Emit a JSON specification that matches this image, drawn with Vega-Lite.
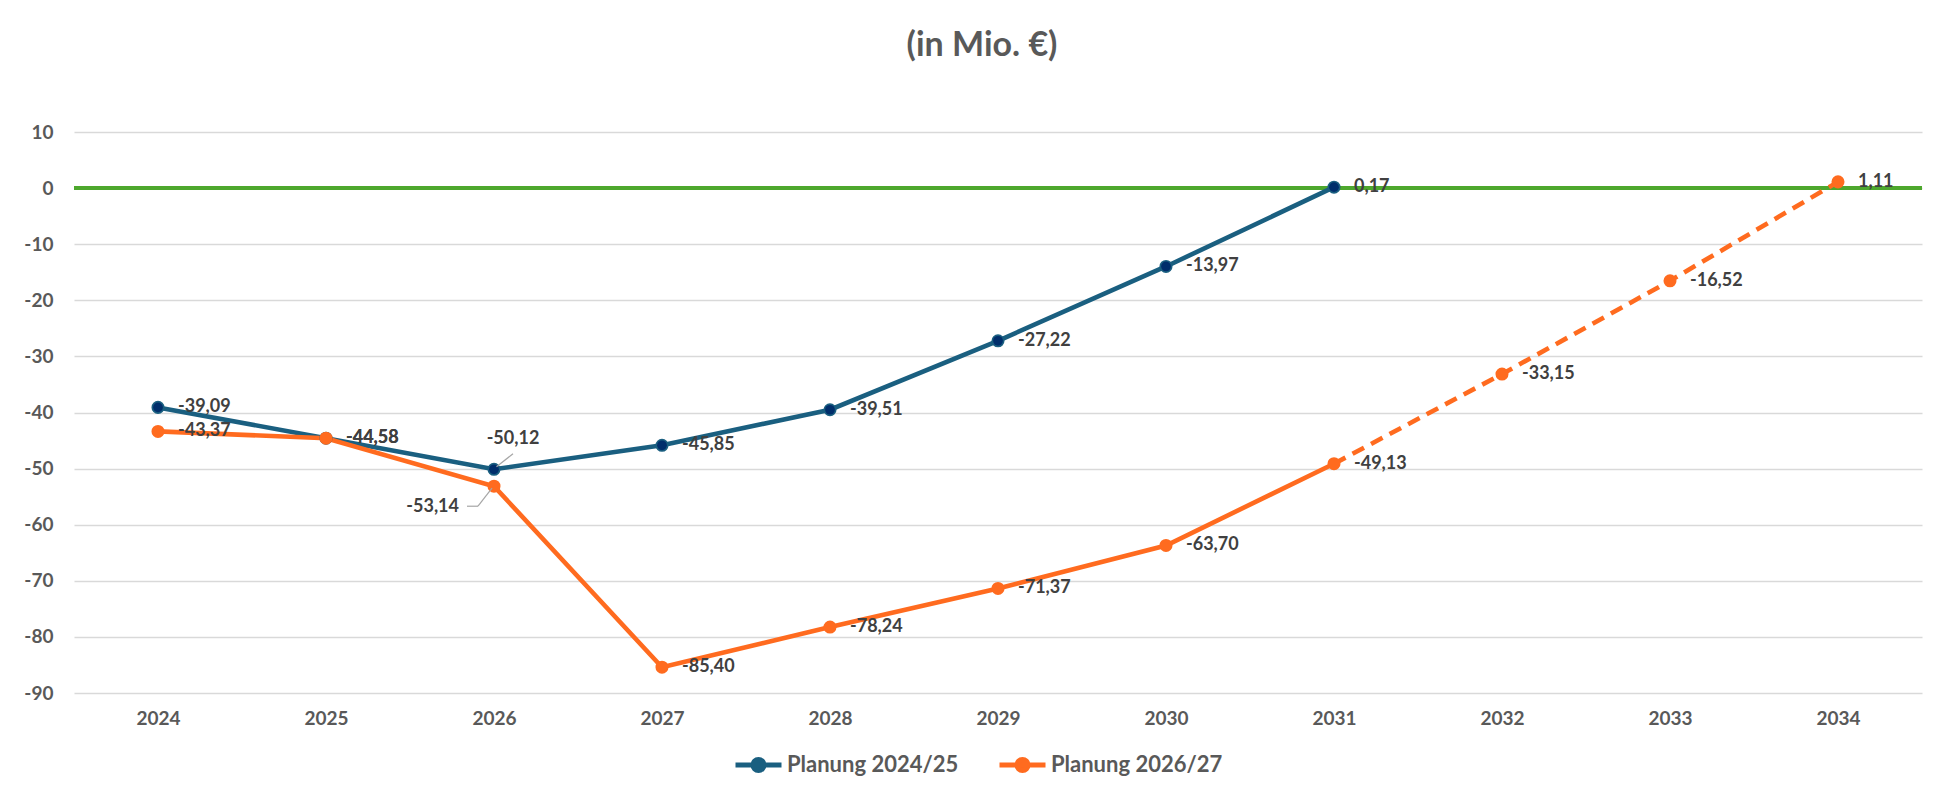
{
  "$schema": "https://vega.github.io/schema/vega-lite/v6.json",
  "width": 1848,
  "height": 561,
  "autosize": {"type": "none"},
  "padding": {"left": 74, "top": 132, "right": 37, "bottom": 109},
  "background": "white",
  "title": {"text": "(in Mio. €)", "font": "Lato", "fontSize": 34, "fontWeight": "bold", "color": "#595959", "anchor": "middle", "frame": "group", "dx": -16, "offset": 60},
  "config": {
    "locale": {"number": {"decimal": ",", "thousands": ".", "grouping": [3], "currency": ["", " €"], "minus": "-"}},
    "view": {"stroke": null},
    "font": "Lato"
  },
  "data": {"values": [
    {"Jahr": "2024", "Serie": "Planung 2024/25", "Wert": -39.09},
    {"Jahr": "2025", "Serie": "Planung 2024/25", "Wert": -44.58},
    {"Jahr": "2026", "Serie": "Planung 2024/25", "Wert": -50.12},
    {"Jahr": "2027", "Serie": "Planung 2024/25", "Wert": -45.85},
    {"Jahr": "2028", "Serie": "Planung 2024/25", "Wert": -39.51},
    {"Jahr": "2029", "Serie": "Planung 2024/25", "Wert": -27.22},
    {"Jahr": "2030", "Serie": "Planung 2024/25", "Wert": -13.97},
    {"Jahr": "2031", "Serie": "Planung 2024/25", "Wert": 0.17},
    {"Jahr": "2024", "Serie": "Planung 2026/27", "Wert": -43.37},
    {"Jahr": "2025", "Serie": "Planung 2026/27", "Wert": -44.58},
    {"Jahr": "2026", "Serie": "Planung 2026/27", "Wert": -53.14},
    {"Jahr": "2027", "Serie": "Planung 2026/27", "Wert": -85.40},
    {"Jahr": "2028", "Serie": "Planung 2026/27", "Wert": -78.24},
    {"Jahr": "2029", "Serie": "Planung 2026/27", "Wert": -71.37},
    {"Jahr": "2030", "Serie": "Planung 2026/27", "Wert": -63.70},
    {"Jahr": "2031", "Serie": "Planung 2026/27", "Wert": -49.13},
    {"Jahr": "2032", "Serie": "Planung 2026/27", "Wert": -33.15},
    {"Jahr": "2033", "Serie": "Planung 2026/27", "Wert": -16.52},
    {"Jahr": "2034", "Serie": "Planung 2026/27", "Wert": 1.11}
  ]},
  "layer": [
    {
      "mark": {"type": "line", "strokeWidth": 0, "opacity": 0},
      "encoding": {
        "x": {"field": "Jahr", "type": "ordinal", "scale": {"type": "point", "padding": 0.5},
          "axis": {"title": null, "labelAngle": 0, "ticks": false, "domain": false, "grid": false, "labelPadding": 16, "labelFontSize": 19, "labelFontWeight": "bold", "labelColor": "#595959", "labelFont": "Lato"}},
        "y": {"field": "Wert", "type": "quantitative", "scale": {"domain": [-90, 10], "nice": false, "zero": false},
          "axis": {"title": null, "values": [-90, -80, -70, -60, -50, -40, -30, -20, -10, 0, 10], "format": "d", "ticks": false, "domain": false, "grid": true, "gridColor": "#D9D9D9", "gridWidth": 1.5, "labelPadding": 21, "labelFontSize": 19, "labelFontWeight": "bold", "labelColor": "#595959", "labelFont": "Lato"}},
        "detail": {"field": "Serie"}
      }
    },
    {
      "mark": {"type": "rule", "color": "#4EA72E", "strokeWidth": 2.5},
      "encoding": {"y": {"datum": 0, "type": "quantitative"}}
    },
    {
      "transform": [{"filter": "datum.Serie == 'Planung 2024/25' || datum.Jahr <= '2031'"}],
      "mark": {"type": "line", "strokeWidth": 4.6},
      "encoding": {
        "x": {"field": "Jahr", "type": "ordinal"},
        "y": {"field": "Wert", "type": "quantitative"},
        "color": {"field": "Serie", "type": "nominal",
          "scale": {"domain": ["Planung 2024/25", "Planung 2026/27"], "range": ["#1A5F80", "#FF6B1F"]},
          "legend": {"title": null, "orient": "none", "direction": "horizontal", "legendX": 659, "legendY": 607, "padding": 0,
            "symbolType": "M-1,0L1,0M-0.24,0A0.24,0.24,0,1,1,0.24,0A0.24,0.24,0,1,1,-0.24,0Z", "symbolSize": 2116, "symbolStrokeWidth": 5,
            "labelFontSize": 22, "labelFontWeight": "bold", "labelColor": "#595959", "labelFont": "Lato", "labelOffset": 3, "labelLimit": 400, "columnPadding": 30}}
      }
    },
    {
      "transform": [{"filter": "datum.Serie == 'Planung 2026/27' && datum.Jahr >= '2031'"}],
      "mark": {"type": "line", "strokeWidth": 4.6, "color": "#FF6B1F", "strokeDash": [13, 8]},
      "encoding": {
        "x": {"field": "Jahr", "type": "ordinal"},
        "y": {"field": "Wert", "type": "quantitative"}
      }
    },
    {
      "mark": {"type": "point", "filled": true, "size": 170, "opacity": 1},
      "encoding": {
        "x": {"field": "Jahr", "type": "ordinal"},
        "y": {"field": "Wert", "type": "quantitative"},
        "color": {"field": "Serie", "type": "nominal"}
      }
    },
    {
      "transform": [{"filter": "datum.Serie == 'Planung 2024/25' && datum.Jahr != '2025'"}],
      "mark": {"type": "point", "filled": true, "size": 95, "opacity": 1, "color": "#002E6B"},
      "encoding": {
        "x": {"field": "Jahr", "type": "ordinal"},
        "y": {"field": "Wert", "type": "quantitative"}
      }
    },
    {
      "transform": [{"filter": "datum.Jahr != '2026'"}],
      "mark": {"type": "text", "align": "left", "baseline": "middle", "dx": 20, "fontSize": 18, "fontWeight": "bold", "font": "Lato", "color": "#404040"},
      "encoding": {
        "x": {"field": "Jahr", "type": "ordinal"},
        "y": {"field": "Wert", "type": "quantitative"},
        "text": {"field": "Wert", "type": "quantitative", "format": ".2f"}
      }
    },
    {
      "transform": [{"filter": "datum.Jahr == '2026' && datum.Serie == 'Planung 2024/25'"}],
      "mark": {"type": "text", "align": "center", "baseline": "middle", "dx": 19, "dy": -30, "fontSize": 18, "fontWeight": "bold", "font": "Lato", "color": "#404040"},
      "encoding": {
        "x": {"field": "Jahr", "type": "ordinal"},
        "y": {"field": "Wert", "type": "quantitative"},
        "text": {"field": "Wert", "type": "quantitative", "format": ".2f"}
      }
    },
    {
      "transform": [{"filter": "datum.Jahr == '2026' && datum.Serie == 'Planung 2026/27'"}],
      "mark": {"type": "text", "align": "right", "baseline": "middle", "dx": -35, "dy": 21, "fontSize": 18, "fontWeight": "bold", "font": "Lato", "color": "#404040"},
      "encoding": {
        "x": {"field": "Jahr", "type": "ordinal"},
        "y": {"field": "Wert", "type": "quantitative"},
        "text": {"field": "Wert", "type": "quantitative", "format": ".2f"}
      }
    },
    {
      "transform": [{"filter": "datum.Jahr == '2026' && datum.Serie == 'Planung 2024/25'"}],
      "mark": {"type": "rule", "color": "#A6A6A6", "strokeWidth": 1.2, "xOffset": 2.5, "yOffset": -2.5, "x2Offset": 19, "y2Offset": -15.5},
      "encoding": {
        "x": {"field": "Jahr", "type": "ordinal"},
        "y": {"field": "Wert", "type": "quantitative"},
        "x2": {"field": "Jahr"},
        "y2": {"field": "Wert"}
      }
    },
    {
      "transform": [{"filter": "datum.Jahr == '2026' && datum.Serie == 'Planung 2026/27'"}],
      "mark": {"type": "rule", "color": "#A6A6A6", "strokeWidth": 1.2, "xOffset": -27, "yOffset": 20, "x2Offset": -16, "y2Offset": 20},
      "encoding": {
        "x": {"field": "Jahr", "type": "ordinal"},
        "y": {"field": "Wert", "type": "quantitative"},
        "x2": {"field": "Jahr"},
        "y2": {"field": "Wert"}
      }
    },
    {
      "transform": [{"filter": "datum.Jahr == '2026' && datum.Serie == 'Planung 2026/27'"}],
      "mark": {"type": "rule", "color": "#A6A6A6", "strokeWidth": 1.2, "xOffset": -16, "yOffset": 20, "x2Offset": -2, "y2Offset": 2},
      "encoding": {
        "x": {"field": "Jahr", "type": "ordinal"},
        "y": {"field": "Wert", "type": "quantitative"},
        "x2": {"field": "Jahr"},
        "y2": {"field": "Wert"}
      }
    }
  ]
}
